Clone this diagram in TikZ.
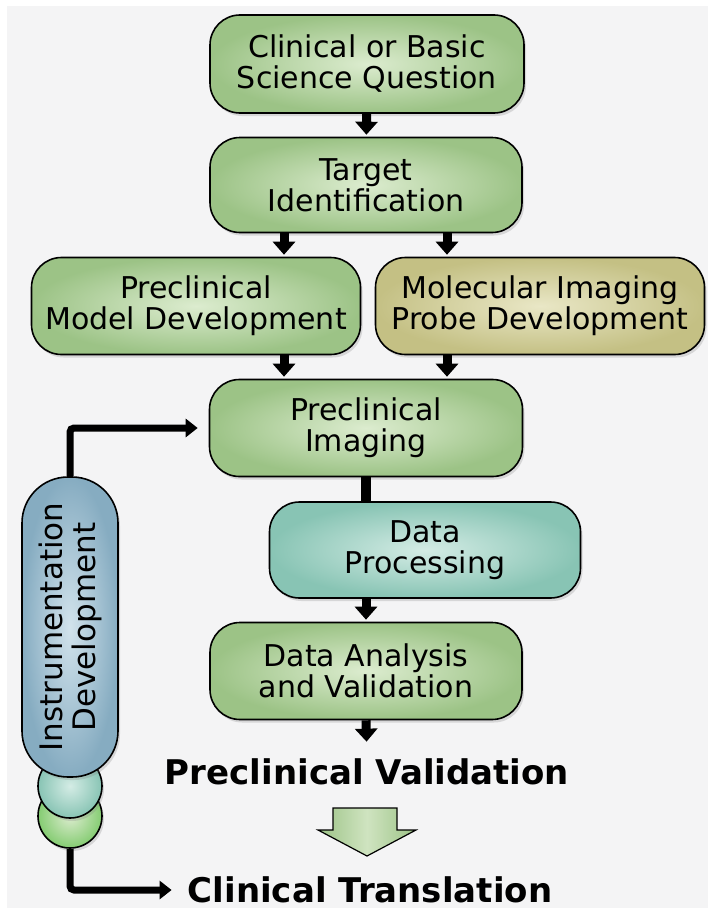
\documentclass[tikz,border=0pt]{standalone}
\usepackage{fontspec}
\setmainfont{DejaVu Sans}
\usepackage{xcolor}
\usepackage{tikz}
\usetikzlibrary{arrows.meta, positioning, shadows}

\definecolor{bggray}{RGB}{244,244,245}
\definecolor{grnout}{RGB}{156,195,134}
\definecolor{grnin}{RGB}{220,236,207}
\definecolor{tanout}{RGB}{196,192,132}
\definecolor{tanin}{RGB}{233,231,198}
\definecolor{tealout}{RGB}{136,196,180}
\definecolor{tealin}{RGB}{212,236,229}
\definecolor{bluout}{RGB}{134,172,193}
\definecolor{bluin}{RGB}{210,227,236}

\begin{document}
\begin{tikzpicture}[x=1pt, y=-1pt,
    stage/.style={draw=black, line width=1.6pt, rounded corners=30pt, align=center,
        inner sep=0pt, font=\fontsize{30}{31}\selectfont,
        drop shadow={opacity=0.25, shadow xshift=2pt, shadow yshift=-3pt}},
    grnbox/.style={stage, inner color=grnin, outer color=grnout},
    tanbox/.style={stage, inner color=tanin, outer color=tanout},
    tealbox/.style={stage, inner color=tealin, outer color=tealout},
    bead/.style={circle, draw=black, line width=1.6pt, minimum size=64pt, inner sep=0pt,
        drop shadow={opacity=0.25, shadow xshift=2pt, shadow yshift=-3pt}},
    result/.style={inner sep=0pt, font=\fontsize{34}{36}\selectfont\bfseries},
    flow/.style={line width=9pt, -{Triangle[width=22pt, length=13pt]}, shorten >=2pt},
    link/.style={line width=7pt, -{Triangle[width=18pt, length=12pt]}, rounded corners=4pt}
]
    \useasboundingbox (0,0) rectangle (708,910);
    \fill[bggray] (7,6) rectangle (708,908);

    % Main stages
    \node[grnbox, minimum width=314pt, minimum height=98pt] (quest) at (367,64)
        {Clinical or Basic\\Science Question};
    \node[grnbox, minimum width=312pt, minimum height=95pt] (target) at (366,185)
        {Target\\Identification};
    \node[grnbox, minimum width=329pt, minimum height=97pt] (model) at (196,306)
        {Preclinical\\Model Development};
    \node[tanbox, minimum width=329pt, minimum height=97pt] (probe) at (540,306)
        {Molecular Imaging\\Probe Development};
    \node[grnbox, minimum width=313pt, minimum height=97pt] (pimg) at (366,428)
        {Preclinical\\Imaging};
    \node[tealbox, minimum width=311pt, minimum height=96pt] (dproc) at (425,550)
        {Data\\Processing};
    \node[grnbox, minimum width=312pt, minimum height=97pt] (danal) at (366,671)
        {Data Analysis\\and Validation};

    % Instrumentation column
    \node[bead, inner color=grnin, outer color=grnout!85!green] (gbead) at (70,816) {};
    \node[bead, inner color=tealin, outer color=tealout] (tbead) at (70,786) {};
    \node[stage, rotate=90, rounded corners=46pt, minimum width=300pt, minimum height=96pt,
        font=\fontsize{31}{33}\selectfont, inner color=bluin, outer color=bluout]
        (instr) at (70,627) {Instrumentation\\Development};

    % Outcome labels
    \node[result] (pval) at (367,772) {Preclinical Validation};
    \node[result] (ctrans) at (370,890) {Clinical Translation};

    % Big arrow between outcomes
    \shade[left color=grnout, right color=grnout, middle color=grnin!80!grnout,
        draw=black, line width=1.2pt]
        (333,808) -- (397,808) -- (397,830) -- (416,830) -- (367,856)
        -- (318,830) -- (333,830) -- cycle;

    % Connectors
    \coordinate (sl) at ([xshift=-82pt]target.south);
    \coordinate (sr) at ([xshift=81pt]target.south);
    \coordinate (ml) at (sl |- model.south);
    \coordinate (mr) at (sr |- probe.south);

    \draw[flow] (quest) -- (target);
    \draw[flow] (sl) -- (sl |- model.north);
    \draw[flow] (sr) -- (sr |- probe.north);
    \draw[flow] (ml) -- (ml |- pimg.north);
    \draw[flow] (mr) -- (mr |- pimg.north);
    \draw[line width=10pt] (pimg.south) -- (pimg.south |- dproc.north);
    \draw[flow] (danal.north |- dproc.south) -- (danal.north);
    \draw[flow, shorten >=17pt] (danal.south) -- (pval.north);
    \draw[link, shorten >=11pt] (instr.east) |- (pimg.west);
    \draw[link, shorten >=16pt] (gbead.south) |- (ctrans.west);
\end{tikzpicture}
\end{document}
